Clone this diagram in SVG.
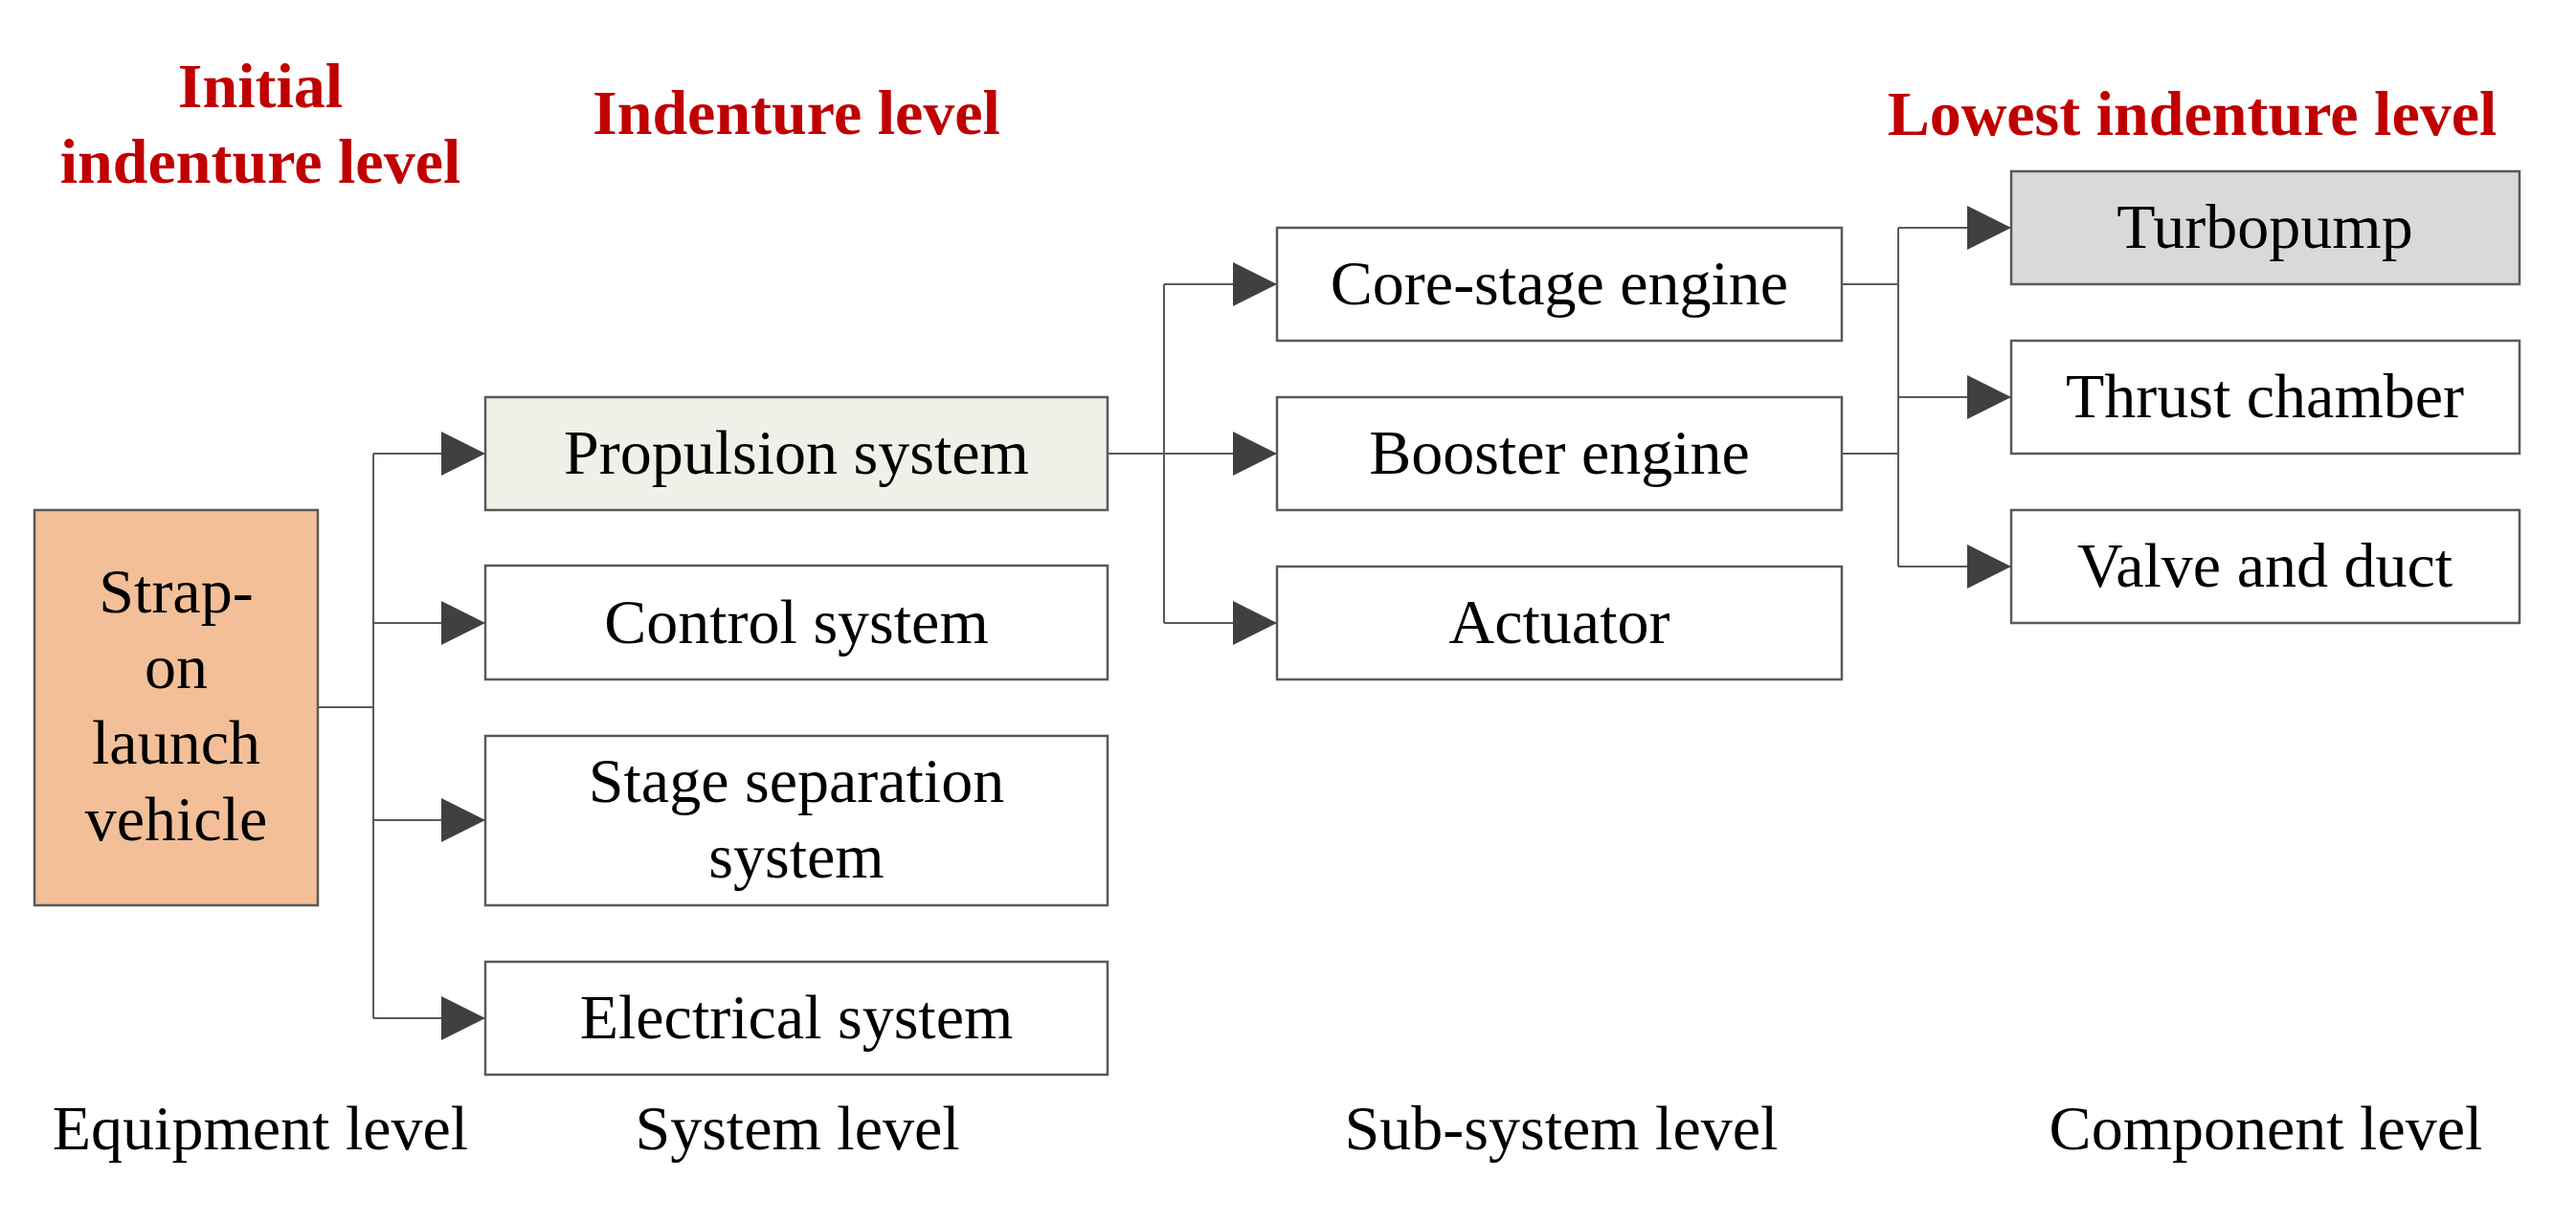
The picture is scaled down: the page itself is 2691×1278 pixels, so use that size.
<svg xmlns="http://www.w3.org/2000/svg" width="2691" height="1278" viewBox="0 0 2691 1278">
  <style>
    .box { stroke: #595959; stroke-width: 2.5; }
    .plain { fill: #ffffff; }
    .lbl { font-family: "Liberation Serif", "Times New Roman", serif; font-size: 66px; fill: #000000; text-anchor: middle; }
    .head { font-family: "Liberation Serif", "Times New Roman", serif; font-size: 66px; font-weight: bold; fill: #C00000; text-anchor: middle; }
    .wire { fill: none; stroke: #595959; stroke-width: 2; }
  </style>
  <defs>
    <marker id="arr" markerUnits="userSpaceOnUse" markerWidth="46" markerHeight="46" viewBox="0 0 46 46" refX="46" refY="23" orient="auto">
      <path d="M0,0 L46,23 L0,46 Z" fill="#404040"/>
    </marker>
  </defs>
  <rect width="2691" height="1278" fill="#ffffff"/>

  <g id="headings">
    <text class="head" x="272" y="112">Initial</text>
    <text class="head" x="272" y="191">indenture level</text>
    <text class="head" x="832" y="140">Indenture level</text>
    <text class="head" x="2290" y="141">Lowest indenture level</text>
  </g>

  <g id="level-labels">
    <text class="lbl" x="272" y="1201">Equipment level</text>
    <text class="lbl" x="833" y="1201">System level</text>
    <text class="lbl" x="1631" y="1201">Sub-system level</text>
    <text class="lbl" x="2367" y="1201">Component level</text>
  </g>

  <g id="connectors">
    <path class="wire" d="M332,739 H390"/>
    <path class="wire" d="M390,474 V1064"/>
    <path class="wire" d="M390,474 H507" marker-end="url(#arr)"/>
    <path class="wire" d="M390,651 H507" marker-end="url(#arr)"/>
    <path class="wire" d="M390,857 H507" marker-end="url(#arr)"/>
    <path class="wire" d="M390,1064 H507" marker-end="url(#arr)"/>
    <path class="wire" d="M1216,297 V651"/>
    <path class="wire" d="M1157,474 H1334" marker-end="url(#arr)"/>
    <path class="wire" d="M1216,297 H1334" marker-end="url(#arr)"/>
    <path class="wire" d="M1216,651 H1334" marker-end="url(#arr)"/>
    <path class="wire" d="M1924,297 H1983"/>
    <path class="wire" d="M1924,474 H1983"/>
    <path class="wire" d="M1983,238 V592"/>
    <path class="wire" d="M1983,238 H2101" marker-end="url(#arr)"/>
    <path class="wire" d="M1983,415 H2101" marker-end="url(#arr)"/>
    <path class="wire" d="M1983,592 H2101" marker-end="url(#arr)"/>
  </g>

  <g id="strap-on-launch-vehicle">
    <rect class="box" x="36" y="533" width="296" height="413" fill="#F2BF98"/>
    <text class="lbl" x="184" y="640">Strap-</text>
    <text class="lbl" x="184" y="719">on</text>
    <text class="lbl" x="184" y="798">launch</text>
    <text class="lbl" x="184" y="878">vehicle</text>
  </g>

  <g id="propulsion-system">
    <rect class="box" x="507" y="415" width="650" height="118" fill="#EEF1E8"/>
    <text class="lbl" x="832" y="495">Propulsion system</text>
  </g>
  <g id="control-system">
    <rect class="box plain" x="507" y="591" width="650" height="119"/>
    <text class="lbl" x="832" y="672">Control system</text>
  </g>
  <g id="stage-separation-system">
    <rect class="box plain" x="507" y="769" width="650" height="177"/>
    <text class="lbl" x="832" y="838">Stage separation</text>
    <text class="lbl" x="832" y="917">system</text>
  </g>
  <g id="electrical-system">
    <rect class="box plain" x="507" y="1005" width="650" height="118"/>
    <text class="lbl" x="832" y="1085">Electrical system</text>
  </g>

  <g id="core-stage-engine">
    <rect class="box plain" x="1334" y="238" width="590" height="118"/>
    <text class="lbl" x="1629" y="318">Core-stage engine</text>
  </g>
  <g id="booster-engine">
    <rect class="box plain" x="1334" y="415" width="590" height="118"/>
    <text class="lbl" x="1629" y="495">Booster engine</text>
  </g>
  <g id="actuator">
    <rect class="box plain" x="1334" y="592" width="590" height="118"/>
    <text class="lbl" x="1629" y="672">Actuator</text>
  </g>

  <g id="turbopump">
    <rect class="box" x="2101" y="179" width="531" height="118" fill="#D9D9D9"/>
    <text class="lbl" x="2366" y="259">Turbopump</text>
  </g>
  <g id="thrust-chamber">
    <rect class="box plain" x="2101" y="356" width="531" height="118"/>
    <text class="lbl" x="2366" y="436">Thrust chamber</text>
  </g>
  <g id="valve-and-duct">
    <rect class="box plain" x="2101" y="533" width="531" height="118"/>
    <text class="lbl" x="2366" y="613">Valve and duct</text>
  </g>
</svg>
